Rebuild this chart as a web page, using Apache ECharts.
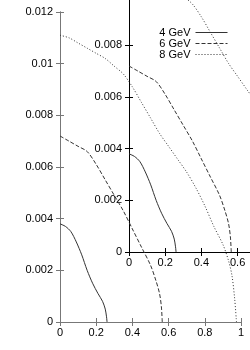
<!DOCTYPE html>
<html>
<head>
<meta charset="utf-8">
<script src="https://cdn.jsdelivr.net/npm/echarts@6/dist/echarts.min.js"></script>
<style>html,body{margin:0;padding:0;background:#fff}#c{width:250px;height:350px}</style>
</head>
<body>
<div id="c"></div>
<script>
// Data (x, y) per beam energy
const seriesNames = ['4 GeV', '6 GeV', '8 GeV'];
const gev4 = [[0,0.0038],[0.03,0.0037],[0.06,0.0035],[0.09,0.0031],[0.12,0.0026],[0.15,0.0020],[0.18,0.0015],[0.21,0.0011],[0.235,0.0008],[0.25,0.0005],[0.257,0.0002],[0.26,0]];
const gev6 = [[0,0.0072],[0.05,0.0070],[0.1,0.0068],[0.15,0.0066],[0.2,0.0061],[0.25,0.0055],[0.3,0.0049],[0.35,0.0043],[0.4,0.0036],[0.45,0.0029],[0.5,0.0022],[0.53,0.0016],[0.55,0.0011],[0.56,0.0006],[0.565,0]];
const gev8 = [[0,0.0111],[0.05,0.0110],[0.1,0.0108],[0.15,0.0106],[0.2,0.0104],[0.25,0.0102],[0.3,0.0099],[0.35,0.0096],[0.4,0.0091],[0.45,0.0085],[0.5,0.0079],[0.55,0.0073],[0.6,0.0068],[0.65,0.0063],[0.7,0.0058],[0.75,0.0052],[0.8,0.0045],[0.85,0.0037],[0.9,0.0030],[0.93,0.0024],[0.95,0.0018],[0.965,0.0009],[0.975,0]];
const xTicks = {min: 0, max: 1, interval: 0.2};
const yTicks = {min: 0, max: 0.012, interval: 0.002};

const allData = [gev4, gev6, gev8];
const lineTypes = ['solid', [4, 2], [1, 2]];
const font = {fontFamily: 'Liberation Sans, Arial, sans-serif', fontSize: 11, color: '#000'};

function axes(gi, color) {
  const line = {show: true, lineStyle: {color: color, width: 1}};
  const tick = {show: true, inside: true, length: 4, lineStyle: {color: color}};
  return {
    x: [
      {type: 'value', gridIndex: gi, position: 'bottom', min: xTicks.min, max: xTicks.max, interval: xTicks.interval,
       axisLine: line, axisTick: tick, splitLine: {show: false},
       axisLabel: Object.assign({margin: 5, showMinLabel: true, showMaxLabel: true}, font)},
      {type: 'value', gridIndex: gi, position: 'top', min: xTicks.min, max: xTicks.max, interval: xTicks.interval,
       axisLine: line, axisTick: tick, splitLine: {show: false}, axisLabel: {show: false}}
    ],
    y: [
      {type: 'value', gridIndex: gi, position: 'left', min: yTicks.min, max: yTicks.max, interval: yTicks.interval,
       axisLine: line, axisTick: tick, splitLine: {show: false},
       axisLabel: Object.assign({margin: 7, showMinLabel: true, showMaxLabel: true}, font)},
      {type: 'value', gridIndex: gi, position: 'right', min: yTicks.min, max: yTicks.max, interval: yTicks.interval,
       axisLine: line, axisTick: tick, splitLine: {show: false}, axisLabel: {show: false}}
    ]
  };
}
const a0 = axes(0, '#777');
const a1 = axes(1, '#000');

const series = [];
[0, 1].forEach(function (gi) {
  allData.forEach(function (d, i) {
    series.push({
      name: seriesNames[i], type: 'line', xAxisIndex: gi * 2, yAxisIndex: gi * 2,
      data: d, symbol: 'none', smooth: 0.3, animation: false,
      lineStyle: {color: '#333', width: 1, type: lineTypes[i]},
      itemStyle: {color: '#333'}
    });
  });
});

const chart = echarts.init(document.getElementById('c'), null, {renderer: 'canvas'});
chart.setOption({
  animation: false,
  backgroundColor: '#fff',
  grid: [
    {left: 60, top: 12, width: 181, height: 310, containLabel: false, outerBoundsMode: 'none'},
    {left: 129, top: -58, width: 181, height: 310, containLabel: false, outerBoundsMode: 'none'}
  ],
  xAxis: a0.x.concat(a1.x),
  yAxis: a0.y.concat(a1.y),
  legend: {
    data: seriesNames, orient: 'vertical', align: 'right', right: 22, top: 27, padding: 0,
    itemWidth: 32, itemHeight: 8, itemGap: 0,
    itemStyle: {opacity: 0},
    lineStyle: {width: 1, color: '#333'},
    textStyle: Object.assign({lineHeight: 11}, font)
  },
  series: series
});
</script>
</body>
</html>
